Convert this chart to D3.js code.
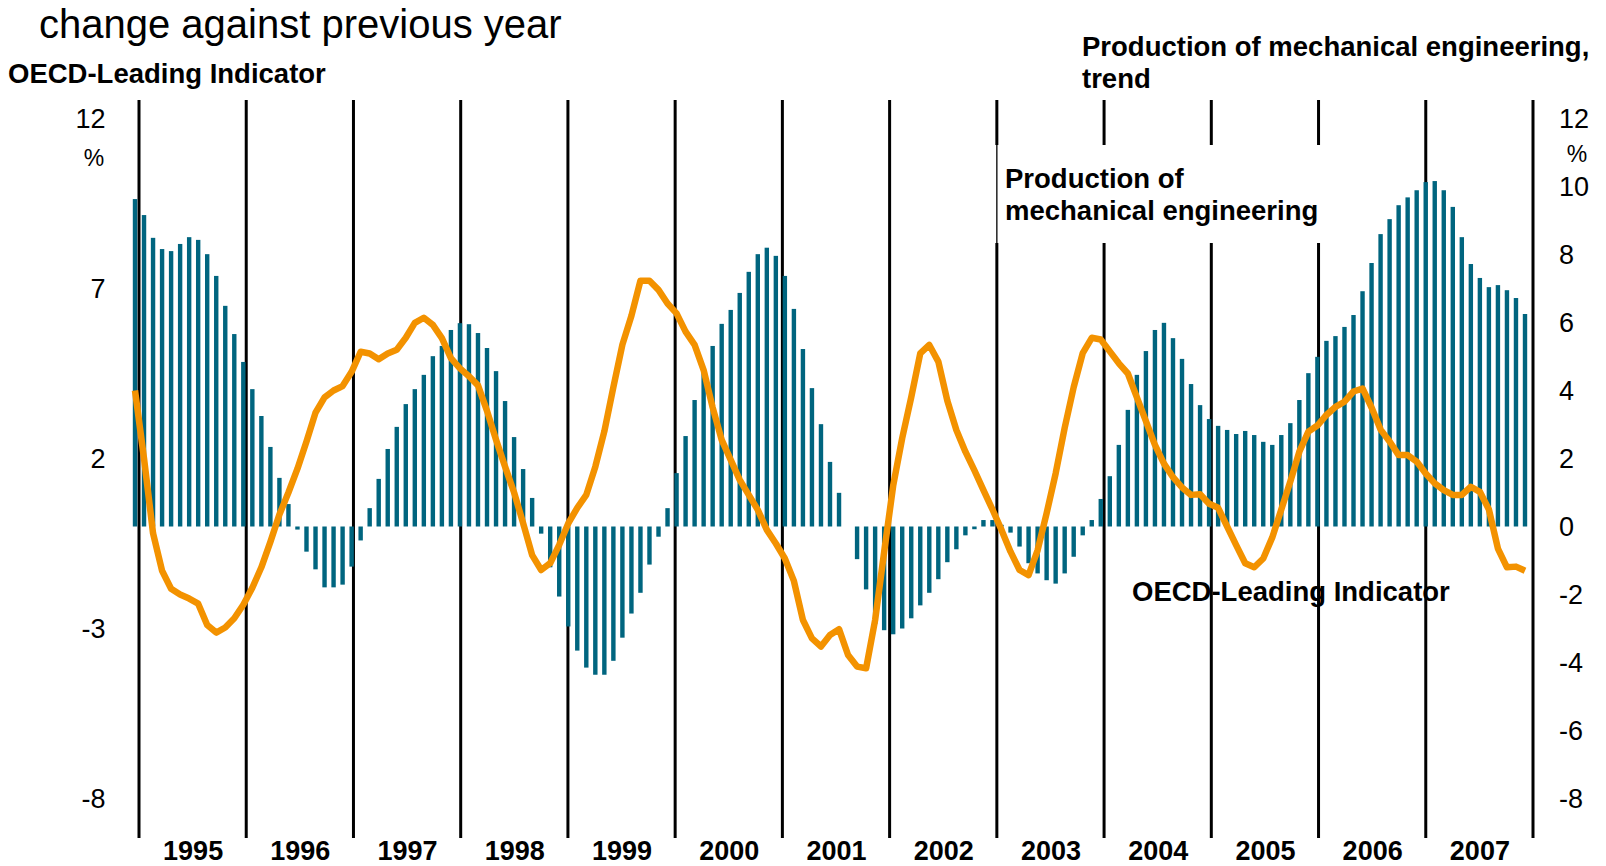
<!DOCTYPE html>
<html>
<head>
<meta charset="utf-8">
<script src="https://cdn.jsdelivr.net/npm/d3@7"></script>
<style>
  html, body { margin: 0; padding: 0; background: #fff; }
  text { font-family: "Liberation Sans", Arial, sans-serif; fill: #000; }
</style>
</head>
<body>
<div id="chart"></div>
<script>
// monthly values, Jan 1995 .. Nov 2007
const years = ['1995', '1996', '1997', '1998', '1999', '2000', '2001', '2002', '2003', '2004', '2005', '2006', '2007'];
const leftTicks = [12, 7, 2, -3, -8];
const rightTicks = [12, 10, 8, 6, 4, 2, 0, -2, -4, -6, -8];

// Production of mechanical engineering, trend (bars)
const production = [
  9.63, 9.16, 8.49, 8.16, 8.10, 8.31, 8.51, 8.43, 8.01, 7.37, 6.49, 5.66,
  4.84, 4.04, 3.25, 2.34, 1.43, 0.66, -0.09, -0.74, -1.26, -1.79, -1.79, -1.71,
  -1.18, -0.41, 0.54, 1.40, 2.28, 2.93, 3.60, 4.04, 4.46, 5.01, 5.31, 5.78,
  5.98, 5.95, 5.69, 5.25, 4.57, 3.69, 2.63, 1.69, 0.84, -0.21, -1.20, -2.06,
  -2.94, -3.65, -4.15, -4.36, -4.36, -3.95, -3.27, -2.56, -1.95, -1.12, -0.30, 0.54,
  1.57, 2.66, 3.72, 4.60, 5.31, 5.96, 6.37, 6.87, 7.49, 8.01, 8.20, 7.96,
  7.37, 6.40, 5.22, 4.07, 3.01, 1.90, 0.99, 0.00, -0.96, -1.85, -2.87, -3.05,
  -3.17, -3.00, -2.70, -2.32, -1.95, -1.55, -1.05, -0.67, -0.26, -0.08, 0.19, 0.19,
  0.05, -0.18, -0.59, -1.08, -1.38, -1.58, -1.68, -1.38, -0.89, -0.26, 0.19, 0.81,
  1.48, 2.40, 3.43, 4.46, 5.16, 5.78, 5.99, 5.54, 4.93, 4.19, 3.57, 3.16,
  2.96, 2.84, 2.72, 2.81, 2.69, 2.49, 2.40, 2.69, 3.04, 3.72, 4.51, 4.99,
  5.46, 5.60, 5.87, 6.22, 6.92, 7.75, 8.60, 9.04, 9.45, 9.68, 9.89, 10.13,
  10.16, 9.89, 9.40, 8.51, 7.72, 7.31, 7.04, 7.10, 6.95, 6.72, 6.25
];

// OECD-Leading Indicator (line)
const oecd = [
  4.00, 2.00, -0.20, -1.30, -1.83, -2.00, -2.12, -2.27, -2.90, -3.12, -2.97, -2.70,
  -2.30, -1.80, -1.20, -0.45, 0.35, 1.00, 1.70, 2.50, 3.35, 3.80, 4.00, 4.13,
  4.55, 5.14, 5.09, 4.92, 5.09, 5.20, 5.55, 5.99, 6.14, 5.93, 5.54, 4.95,
  4.65, 4.42, 4.15, 3.40, 2.55, 1.76, 1.00, 0.10, -0.84, -1.28, -1.08, -0.54,
  0.09, 0.55, 0.93, 1.76, 2.80, 4.10, 5.35, 6.20, 7.23, 7.23, 6.96, 6.56,
  6.27, 5.73, 5.34, 4.60, 3.50, 2.55, 1.96, 1.37, 0.93, 0.49, -0.10, -0.50,
  -0.94, -1.60, -2.75, -3.29, -3.53, -3.19, -3.02, -3.78, -4.12, -4.17, -2.75, -0.75,
  1.20, 2.60, 3.80, 5.09, 5.34, 4.85, 3.70, 2.84, 2.20, 1.65, 1.07, 0.50,
  -0.10, -0.74, -1.28, -1.43, -0.70, 0.39, 1.56, 2.90, 4.10, 5.10, 5.55, 5.50,
  5.15, 4.80, 4.50, 3.80, 3.10, 2.40, 1.85, 1.45, 1.15, 0.93, 0.95, 0.67,
  0.55, 0.00, -0.55, -1.08, -1.20, -0.94, -0.32, 0.50, 1.32, 2.20, 2.79, 2.97,
  3.28, 3.52, 3.67, 3.97, 4.06, 3.50, 2.85, 2.50, 2.10, 2.10, 1.91, 1.56,
  1.27, 1.07, 0.93, 0.93, 1.17, 1.02, 0.50, -0.65, -1.20, -1.18, -1.30
];

const width = 1606;
const height = 866;

const svg = d3.select('#chart').append('svg')
  .attr('width', width)
  .attr('height', height);

const x = d3.scaleLinear().domain([0, production.length - 1]).range([135, 1525]);
const xYear = d3.scaleLinear().domain([+years[0], +years[years.length - 1] + 1]).range([139, 1533]);
const y = d3.scaleLinear().domain([-8, 12]).range([798.5, 118.5]);

// year separators (last one is the right axis line)
svg.append('g')
  .selectAll('line')
  .data(d3.range(+years[0], +years[years.length - 1] + 2))
  .enter().append('line')
  .attr('x1', d => xYear(d))
  .attr('x2', d => xYear(d))
  .attr('y1', 100)
  .attr('y2', 838)
  .attr('stroke', '#000')
  .attr('stroke-width', 3);

// label box cutting the separators
const boxX = xYear(2003);
svg.append('rect')
  .attr('x', boxX - 2.5)
  .attr('y', 145)
  .attr('width', xYear(2006) - boxX + 16)
  .attr('height', 98)
  .attr('fill', '#fff');
svg.append('line')
  .attr('x1', boxX).attr('x2', boxX)
  .attr('y1', 145).attr('y2', 243)
  .attr('stroke', '#000')
  .attr('stroke-width', 1.3);

// bars
const barW = 4.4;
svg.append('g')
  .selectAll('rect')
  .data(production)
  .enter().append('rect')
  .attr('x', (d, i) => x(i) - barW / 2)
  .attr('y', d => Math.min(y(d), y(0)))
  .attr('width', barW)
  .attr('height', d => Math.abs(y(d) - y(0)))
  .attr('fill', '#00657f');

// line
const line = d3.line()
  .x((d, i) => x(i))
  .y(d => y(d));

svg.append('path')
  .datum(oecd)
  .attr('d', line)
  .attr('fill', 'none')
  .attr('stroke', '#f39200')
  .attr('stroke-width', 6.5)
  .attr('stroke-linejoin', 'round');

// axes (plain hyphen for negatives)
const fmt = d => String(d);

const leftAxis = svg.append('g')
  .attr('transform', 'translate(105.5,0)')
  .call(d3.axisLeft(y).tickValues(leftTicks).tickFormat(fmt).tickSize(0).tickPadding(0));
leftAxis.select('.domain').remove();
leftAxis.selectAll('text')
  .style('font-size', '27px')
  .style('font-family', '"Liberation Sans", Arial, sans-serif')
  .attr('fill', '#000');

const rightAxis = svg.append('g')
  .attr('transform', 'translate(1559,0)')
  .call(d3.axisRight(y).tickValues(rightTicks).tickFormat(fmt).tickSize(0).tickPadding(0));
rightAxis.select('.domain').remove();
rightAxis.selectAll('text')
  .style('font-size', '27px')
  .style('font-family', '"Liberation Sans", Arial, sans-serif')
  .attr('fill', '#000');

const yearAxis = svg.append('g')
  .attr('transform', 'translate(0,841)')
  .call(d3.axisBottom(xYear)
    .tickValues(years.map(d => +d + 0.5))
    .tickFormat((d, i) => years[i])
    .tickSize(0).tickPadding(0));
yearAxis.select('.domain').remove();
yearAxis.selectAll('text')
  .style('font-size', '27px')
  .style('font-weight', 'bold')
  .style('font-family', '"Liberation Sans", Arial, sans-serif')
  .attr('fill', '#000');

// % units
svg.append('text')
  .attr('x', 94).attr('y', 158)
  .attr('text-anchor', 'middle')
  .attr('dy', '0.35em')
  .style('font-size', '23px')
  .text('%');
svg.append('text')
  .attr('x', 1577).attr('y', 154)
  .attr('text-anchor', 'middle')
  .attr('dy', '0.35em')
  .style('font-size', '23px')
  .text('%');

// titles and labels
svg.append('text')
  .attr('x', 39).attr('y', 38)
  .style('font-size', '40px')
  .text('change against previous year');

const labels = [
  {x: 8, y: 83, t: 'OECD-Leading Indicator'},
  {x: 1082, y: 56, t: 'Production of mechanical engineering,'},
  {x: 1082, y: 88, t: 'trend'},
  {x: 1005, y: 187.5, t: 'Production of'},
  {x: 1005, y: 220, t: 'mechanical engineering'},
  {x: 1132, y: 601, t: 'OECD-Leading Indicator'}
];
svg.append('g')
  .selectAll('text')
  .data(labels)
  .enter().append('text')
  .attr('x', d => d.x)
  .attr('y', d => d.y)
  .style('font-size', '27.5px')
  .style('font-weight', 'bold')
  .text(d => d.t);
</script>
</body>
</html>
